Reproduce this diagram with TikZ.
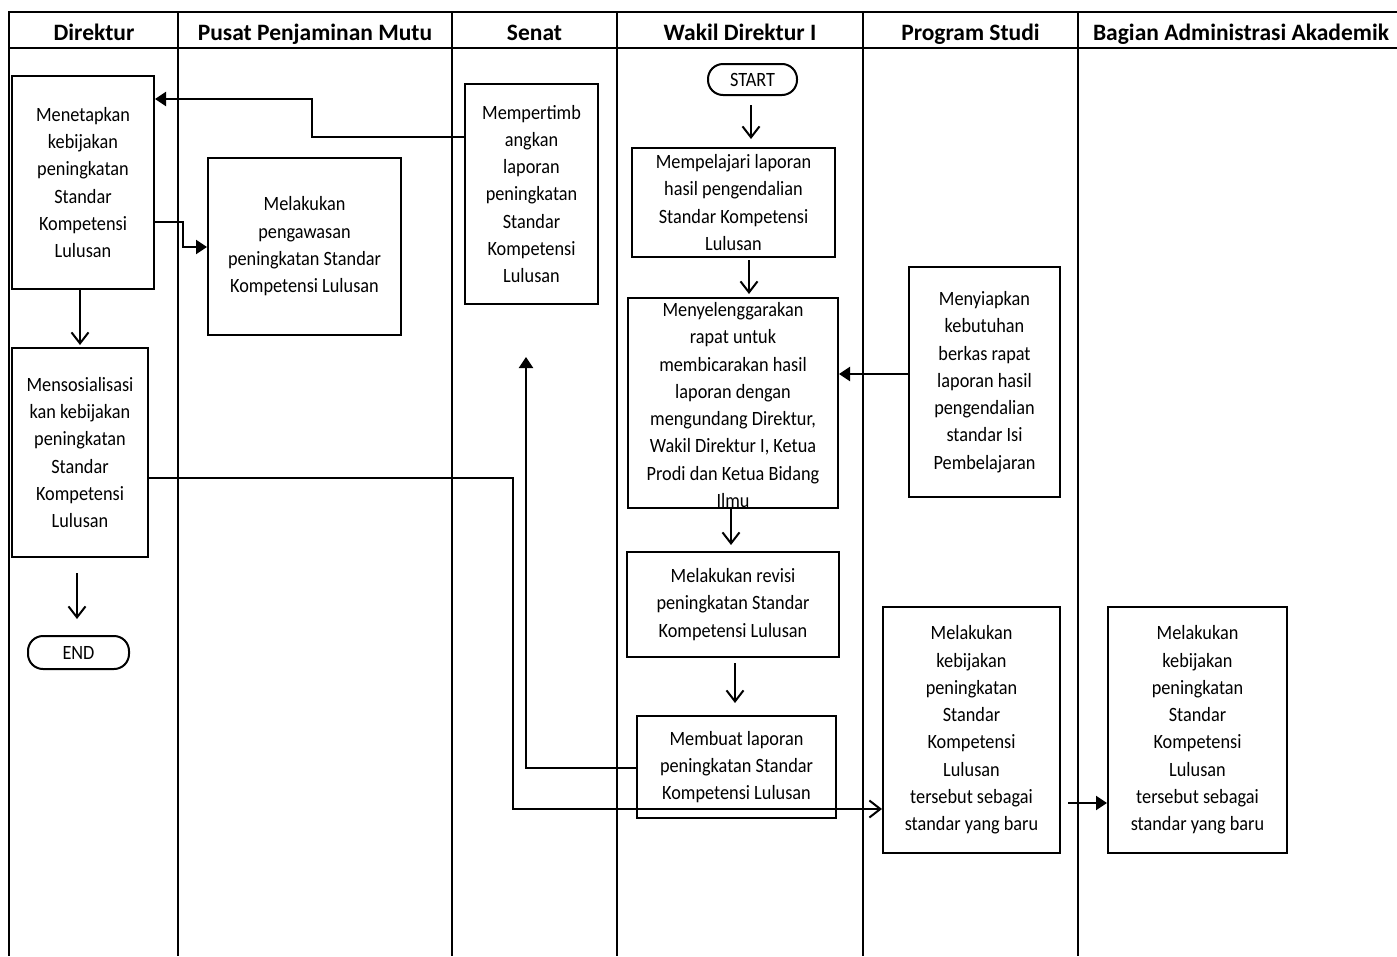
\documentclass[tikz,border=0pt]{standalone}
\usepackage{fontspec}
\setmainfont{Carlito}[FakeStretch=0.9]
\newfontfamily\hfont{Carlito}
\usetikzlibrary{arrows.meta}
\begin{document}
\begin{tikzpicture}[x=1pt,y=-1pt,
  lane/.style={line width=1.6pt},
  box/.style={draw, line width=2pt, align=center, inner sep=0pt, font=\fontsize{20.3}{27.3}\selectfont},
  txt/.style={align=center, inner sep=0pt, font=\fontsize{20.3}{27.3}\selectfont},
  hdr/.style={font=\hfont\fontsize{23.5}{27}\selectfont\bfseries, inner sep=0pt, anchor=base},
  term/.style={box, rounded corners=15pt},
  conn/.style={line width=2pt},
  openarr/.style={conn, -{Straight Barb[length=11pt,width=17pt]}},
  fillarr/.style={conn, -{Triangle[length=11pt,width=14pt]}},
]
\useasboundingbox (0,0) rectangle (1397,956);
% lanes
\draw[lane] (1397,12) -- (9,12) -- (9,956);
\draw[lane] (9,48) -- (1397,48);
\foreach \lx in {178,452,617,863,1078} \draw[lane] (\lx,12) -- (\lx,956);
% headers
\node[hdr] (h1) at (94,40) {Direktur};
\node[hdr] (h2) at (315,40) {Pusat Penjaminan Mutu};
\node[hdr] (h3) at (534.5,40) {Senat};
\node[hdr] (h4) at (740,40) {Wakil Direktur I};
\node[hdr] (h5) at (970.5,40) {Program Studi};
\node[hdr] (h6) at (1241,40) {Bagian Administrasi Akademik};
% boxes
\node[box, minimum width=142pt, minimum height=213pt] (menetapkan) at (83,182.5)
  {Menetapkan\\kebijakan\\peningkatan\\Standar\\Kompetensi\\Lulusan};
\node[box, minimum width=193pt, minimum height=177pt] (pengawasan) at (304.5,246.5)
  {Melakukan\\pengawasan\\peningkatan Standar\\Kompetensi Lulusan};
\node[box, minimum width=133pt, minimum height=220pt] (pertimbang) at (531.5,194)
  {Mempertimb\\angkan\\laporan\\peningkatan\\Standar\\Kompetensi\\Lulusan};
\node[term, minimum width=89pt, minimum height=31pt] (start) at (752.5,79.5) {START};
\node[box, minimum width=203pt, minimum height=109pt] (pelajari) at (733.5,202.5)
  {Mempelajari laporan\\hasil pengendalian\\Standar Kompetensi\\Lulusan};
\node[box, minimum width=210pt, minimum height=210pt] (selenggara) at (733,403) {};
\node[txt] (selenggaratxt) at (733,405)
  {Menyelenggarakan\\rapat untuk\\membicarakan hasil\\laporan dengan\\mengundang Direktur,\\Wakil Direktur I, Ketua\\Prodi dan Ketua Bidang\\Ilmu};
\node[box, minimum width=151pt, minimum height=230pt] (siapkan) at (984.5,382)
  {Menyiapkan\\kebutuhan\\berkas rapat\\laporan hasil\\pengendalian\\standar Isi\\Pembelajaran};
\node[box, minimum width=212pt, minimum height=105pt] (revisi) at (733,604.5)
  {Melakukan revisi\\peningkatan Standar\\Kompetensi Lulusan};
\node[box, minimum width=199pt, minimum height=102pt] (membuat) at (736.5,767)
  {Membuat laporan\\peningkatan Standar\\Kompetensi Lulusan};
\node[box, minimum width=177pt, minimum height=246pt] (ps) at (971.5,730)
  {Melakukan\\kebijakan\\peningkatan\\Standar\\Kompetensi\\Lulusan\\tersebut sebagai\\standar yang baru};
\node[box, minimum width=179pt, minimum height=246pt] (baa) at (1197.5,730)
  {Melakukan\\kebijakan\\peningkatan\\Standar\\Kompetensi\\Lulusan\\tersebut sebagai\\standar yang baru};
\node[box, minimum width=136pt, minimum height=209pt] (sosial) at (80,452.5)
  {Mensosialisasi\\kan kebijakan\\peningkatan\\Standar\\Kompetensi\\Lulusan};
\node[term, minimum width=101pt, minimum height=33pt] (end) at (78.5,652.5) {END};
% connectors
\draw[fillarr] (pertimbang.west |- 0,137) -| (312,99) -- (menetapkan.east |- 0,99);
\draw[fillarr] (menetapkan.east |- 0,222) -| (183,247) -- (pengawasan.west |- 0,247);
\draw[openarr, shorten >=2pt] (menetapkan.south -| 80,0) -- (sosial.north -| 80,0);
\draw[openarr, shorten <=15pt, shorten >=16pt] (sosial.south -| 77,0) -- (end.north -| 77,0);
\draw[openarr, shorten <=9pt, shorten >=8pt] (start.south -| 751,0) -- (pelajari.north -| 751,0);
\draw[openarr, shorten <=2pt, shorten >=3pt] (pelajari.south -| 749,0) -- (selenggara.north -| 749,0);
\draw[fillarr] (siapkan.west |- 0,374) -- (selenggara.east |- 0,374);
\draw[openarr, shorten >=6pt] (selenggara.south -| 731,0) -- (revisi.north -| 731,0);
\draw[openarr, shorten <=5pt, shorten >=12pt] (revisi.south -| 735,0) -- (membuat.north -| 735,0);
\draw[fillarr, shorten >=52pt] (membuat.west |- 0,768) -| (pertimbang.south -| 526,0);
\draw[openarr] (sosial.east |- 0,478) -| (513,809) -- (ps.west |- 0,809);
\draw[fillarr, shorten <=7pt] (ps.east |- 0,803) -- (baa.west |- 0,803);
\end{tikzpicture}
\end{document}
